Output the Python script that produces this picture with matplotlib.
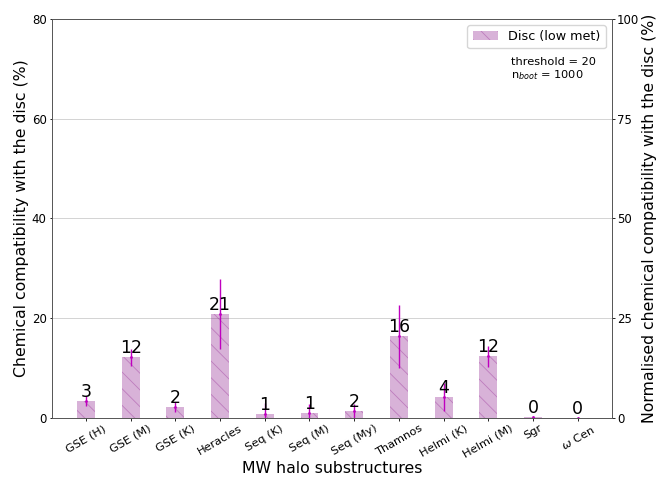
import numpy as np
import matplotlib.pyplot as plt

plt.rcParams['xtick.major.size'] = 1.8
plt.rcParams['ytick.major.size'] = 1.8
plt.rcParams['xtick.major.pad'] = 1.8
plt.rcParams['ytick.major.pad'] = 1.8
plt.rcParams['xtick.major.width'] = 0.6
plt.rcParams['ytick.major.width'] = 0.6
plt.rcParams['hatch.linewidth'] = 0.6

# Halo substructures and their disc compatibility (%)
substructures = ['GSE (H)', 'GSE (M)', 'GSE (K)', 'Heracles', 'Seq (K)', 'Seq (M)',
                 'Seq (My)', 'Thamnos', 'Helmi (K)', 'Helmi (M)', 'Sgr', r'$\omega$ Cen']
compat = [3.4, 12.2, 2.2, 20.8, 0.9, 1.1, 1.5, 16.4, 4.2, 12.4, 0.2, 0.1]
compat_err = [1.0, 1.7, 1.0, 7.0, 2.1, 1.8, 1.4, 6.3, 2.8, 2.1, 0.2, 0.1]

threshold = 20
n_boot = 1000

fig = plt.figure(figsize=(6.61, 4.79), dpi=100)
ax = fig.add_axes([0.078, 0.127, 0.848, 0.834])

x = np.arange(len(substructures))
bars = ax.bar(x, compat, width=0.4, color='purple', alpha=0.3, hatch='\\\\',
              edgecolor='purple', linewidth=0, label='Disc (low met)')
ax.errorbar(x, compat, yerr=compat_err, fmt='.', color='m', markersize=2,
            elinewidth=1.0, capsize=0)
ax.bar_label(bars, fmt='%.0f', fontsize=12.5)

ax.set_ylim(0, 80)
ax.set_yticks([0, 20, 40, 60, 80])
ax.set_xticks(x)
ax.set_xticklabels(substructures, rotation=30, ha='center', fontsize=8.2)
ax.tick_params(axis='y', labelsize=8.5)
ax.yaxis.grid(True, color='lightgrey', linewidth=0.7)
ax.set_axisbelow(True)
ax.set_xlabel('MW halo substructures', fontsize=11.3, labelpad=1)
ax.set_ylabel('Chemical compatibility with the disc (%)', fontsize=11.3, labelpad=2)

leg = ax.legend(loc='upper right', fontsize=9.2)
ax.text(0.82, 0.905, 'threshold = %d\nn$_{boot}$ = %d' % (threshold, n_boot),
        transform=ax.transAxes, fontsize=8.2, va='top', ha='left')

# Normalised scale on the right: 80% maps to 100%
ax2 = ax.twinx()
ax2.set_ylim(0, 100)
ax2.set_yticks([0, 25, 50, 75, 100])
ax2.tick_params(axis='y', labelsize=8.5)
ax2.set_ylabel('Normalised chemical compatibility with the disc (%)', fontsize=11.3,
               labelpad=2)

for a in (ax, ax2):
    for s in a.spines.values():
        s.set_color('#555555')
        s.set_linewidth(0.6)

plt.savefig('out.png', dpi=100)
